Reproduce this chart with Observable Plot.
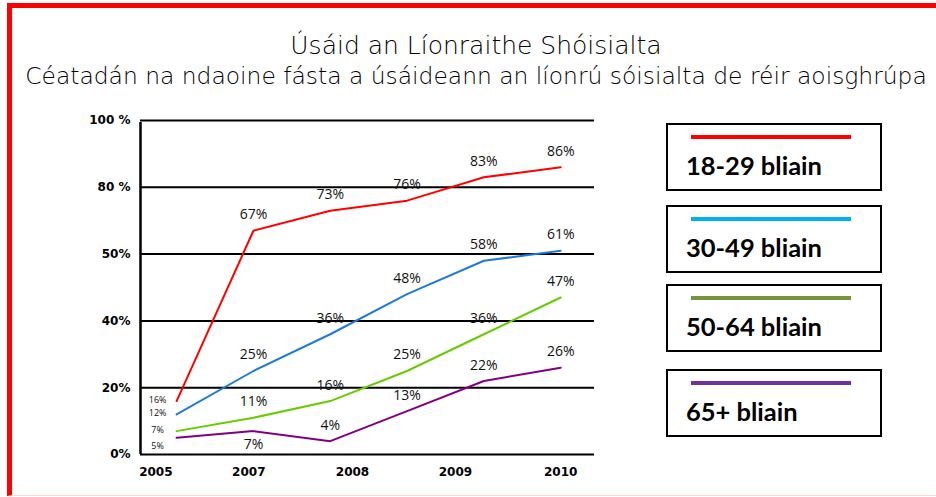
<!DOCTYPE html>
<html><head><meta charset="utf-8">
<script src="https://cdn.jsdelivr.net/npm/d3@7"></script>
<script src="https://cdn.jsdelivr.net/npm/@observablehq/plot@0.6"></script>
<style>
body{margin:0;background:#fff;}
#page{position:relative;width:936px;height:497px;overflow:hidden;background:#fff;}
#frame{position:absolute;left:7px;top:3px;width:1000px;height:487px;border-left:5px solid #ff0000;border-top:5px solid #ff0000;border-bottom:1px solid #ffd6d6;}
.ttl{position:absolute;left:0;width:952px;text-align:center;font-family:"DejaVu Sans";font-weight:200;color:#000;white-space:nowrap;}
#title{top:31px;font-size:25px;}
#subtitle{top:62px;font-size:23.4px;}
#chart{position:absolute;left:0;top:100px;}
.lg{position:absolute;left:666px;width:212px;height:64px;border:2px solid #000;}
.lg .sw{position:absolute;left:23px;top:10px;width:160px;height:4px;}
.lg .tx{position:absolute;left:18px;top:25px;font-family:"Lato";font-weight:700;font-size:25.5px;color:#000;white-space:nowrap;}
</style>
</head><body>
<div id="page">
  <div id="frame"></div>
  <div id="title" class="ttl"></div>
  <div id="subtitle" class="ttl"></div>
  <div id="chart"></div>
</div>
<script>
const titleText = "Úsáid an Líonraithe Shóisialta";
const subtitleText = "Céatadán na ndaoine fásta a úsáideann an líonrú sóisialta de réir aoisghrúpa";

// survey points along the x axis (index order)
const surveyPoints = [0, 1, 2, 3, 4, 5];
// x tick labels and the x-domain spots where they sit
const yearLabels = ["2005", "2007", "2008", "2009", "2010"];
const yearTickAt = [-0.27, 0.94, 2.29, 3.63, 5];
// y ticks and their (original) labels
const yTicks = [0, 20, 40, 60, 80, 100];
const yLabels = ["0%", "20%", "40%", "50%", "80 %", "100 %"];

const seriesNames = ["18-29 bliain", "30-49 bliain", "50-64 bliain", "65+ bliain"];
const v18_29 = [16, 67, 73, 76, 83, 86];
const v30_49 = [12, 25, 36, 48, 58, 61];
const v50_64 = [7, 11, 16, 25, 36, 47];
const v65plus = [5, 7, 4, 13, 22, 26];
const lineColors = ["#ff0000", "#1f7ad6", "#66cc00", "#800080"];
const legendColors = ["#ff0000", "#00b0f0", "#77933c", "#7030a0"];

document.getElementById("title").textContent = titleText;
document.getElementById("subtitle").textContent = subtitleText;

const allValues = [v18_29, v30_49, v50_64, v65plus];
const rows = [];
allValues.forEach((vals, s) => vals.forEach((v, k) => rows.push({series: seriesNames[s], i: surveyPoints[k], v, k, s})));

const xDomain = [-0.47, 5.44];
const yLabelMap = new Map(yTicks.map((t, j) => [t, yLabels[j]]));
const xLabelMap = new Map(yearTickAt.map((t, j) => [t, yearLabels[j]]));

const labelFont = "Open Sans";
const isBelow = d => d.s === 3 && d.k === 1;
const txt = d => d.v + "%";

const chart = Plot.plot({
  width: 620,
  height: 390,
  marginLeft: 140,
  marginRight: 26,
  marginTop: 20,
  marginBottom: 36,
  style: {background: "transparent", overflow: "visible"},
  x: {domain: xDomain, axis: null},
  y: {domain: [0, 100], axis: null},
  color: {domain: seriesNames, range: lineColors},
  marks: [
    Plot.ruleY(yTicks, {stroke: "#000", strokeWidth: 2}),
    Plot.ruleX([xDomain[0]], {y1: 0, y2: 100, stroke: "#000", strokeWidth: 2.5, insetBottom: -2}),
    Plot.axisY({ticks: yTicks, tickSize: 0, tickPadding: 10, label: null, tickFormat: d => yLabelMap.get(d),
      fontFamily: "DejaVu Sans", fontWeight: "bold", fontSize: 12, letterSpacing: "-0.6px", fill: "#000"}),
    Plot.axisX({ticks: yearTickAt, tickSize: 0, tickPadding: 13, label: null, tickFormat: d => xLabelMap.get(d),
      fontFamily: "DejaVu Sans", fontWeight: "bold", fontSize: 12, letterSpacing: "-0.4px", fill: "#000"}),
    Plot.line(rows, {x: "i", y: "v", z: "series", stroke: "series", strokeWidth: 2}),
    Plot.text(rows.filter(d => d.k > 0 && !isBelow(d)), {x: "i", y: "v", text: txt, dy: -16,
      fontFamily: labelFont, fontSize: 14, fill: "#111"}),
    Plot.text(rows.filter(isBelow), {x: "i", y: "v", text: txt, dy: 13,
      fontFamily: labelFont, fontSize: 14, fill: "#111"}),
    Plot.text(rows.filter(d => d.k === 0 && d.s < 3), {x: "i", y: "v", text: txt, dx: -19, dy: -1,
      fontFamily: labelFont, fontSize: 9, letterSpacing: "-0.3px", fill: "#111"}),
    Plot.text(rows.filter(d => d.k === 0 && d.s === 3), {x: "i", y: "v", text: txt, dx: -19, dy: 8,
      fontFamily: labelFont, fontSize: 9, letterSpacing: "-0.3px", fill: "#111"})
  ]
});
document.getElementById("chart").appendChild(chart);

// legend boxes built from the series arrays
const page = document.getElementById("page");
const legendTop = [123, 205, 284, 369];
seriesNames.forEach((name, s) => {
  const box = document.createElement("div");
  box.className = "lg";
  box.style.top = legendTop[s] + "px";
  const sw = document.createElement("div");
  sw.className = "sw";
  sw.style.background = legendColors[s];
  const tx = document.createElement("div");
  tx.className = "tx";
  tx.textContent = name;
  box.appendChild(sw); box.appendChild(tx);
  page.appendChild(box);
});
</script>
</body></html>
